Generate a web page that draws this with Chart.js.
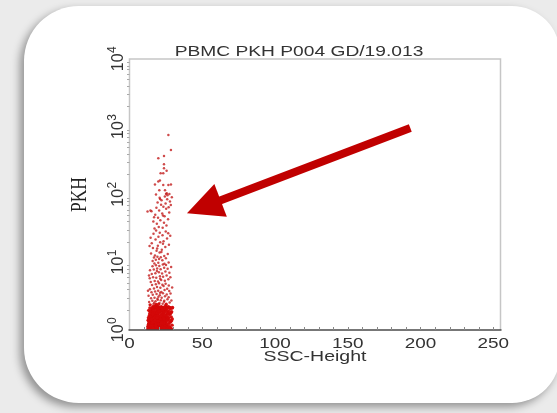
<!DOCTYPE html>
<html>
<head>
<meta charset="utf-8">
<script src="https://cdn.jsdelivr.net/npm/chart.js@4.4.1/dist/chart.umd.min.js"></script>
<style>
  html,body{margin:0;padding:0;background:#ebebeb;width:557px;height:413px;overflow:hidden;}
  #card{position:absolute;left:24px;top:6px;width:536px;height:397px;background:#fff;
        border-radius:55px 48px 48px 55px;box-shadow:-4px 4px 8px rgba(0,0,0,0.38);}
  #c{position:absolute;left:0;top:0;}
</style>
</head>
<body>
<div id="card"></div>
<canvas id="c" width="557" height="413"></canvas>
<script>
const chartTitle = 'PBMC PKH P004 GD/19.013';
const xAxisTitle = 'SSC-Height';
const yAxisTitle = 'PKH';
const xTicks = [0, 50, 100, 150, 200, 250];
const yTicks = [1, 10, 100, 1000, 10000];
const yTickExp = ['0', '1', '2', '3', '4'];
const arrowFrom = [193, 958];
const arrowTo = [39.5, 53];

const ssc = [
 13.1,14.5,15.2,16.8,17.4,18.9,19.6,20.3,21.7,22.4,23.8,24.6,25.9,27.2,28.4,13.8,15.9,17.1,18.3,19.2,20.8,21.3,22.9,24.1,26.3,14.2,16.3,17.9,19.9,21.1,23.2,25.4,12.9,15.6,16.1,18.1,19.4,20.6,22.1,23.5,14.9,16.6,17.7,18.6,20.1,21.9,24.9,26.8,29.1,13.5,15.4,17.0,18.7,19.8,21.5,22.7,24.3,25.6,14.7,16.9,19.0,20.5,22.3,23.9,15.0,17.6,18.4,21.0,14.0,16.4,20.0,13.3,27.8,12.6,23.0,15.8,
 13.4,14.6,15.3,16.7,17.5,18.8,19.5,20.4,21.6,22.5,23.7,24.8,26.1,27.5,28.9,14.1,15.7,16.2,17.8,18.2,19.7,20.9,21.4,22.8,24.4,25.7,13.0,15.1,16.5,18.5,20.2,22.2,23.4,26.6,14.8,17.2,19.1,21.2,23.1,25.1,13.7,16.0,17.3,18.0,19.3,20.7,22.0,24.0,14.4,15.5,21.8,27.0,29.4,12.8,16.8,19.9,23.6,25.3,18.9,15.9,20.6,22.6,
 13.6,14.9,16.1,17.4,18.6,19.8,21.0,22.3,23.5,24.7,26.0,27.4,28.6,14.3,15.6,16.9,18.1,19.4,20.5,21.7,22.9,24.2,25.5,13.2,15.2,17.0,18.8,20.1,21.4,23.3,25.0,27.9,14.0,15.8,17.3,18.4,19.6,20.8,22.0,23.1,24.5,25.8,27.1,28.3,29.6,16.4,19.1,21.9,24.9,26.7,16.6,19.0,21.3,23.8,15.4,17.8,22.6,26.4,28.0,13.9,20.3,18.0,29.0,
 13.7,14.3,15.1,15.7,16.4,16.9,17.3,17.9,18.2,18.7,19.3,19.9,20.2,20.7,21.2,21.6,22.2,22.7,23.3,23.8,24.2,24.7,25.3,25.8,26.4,27.1,27.7,28.2,14.6,15.3,16.0,16.6,17.2,17.8,18.5,19.1,19.6,20.4,21.0,21.7,22.4,23.0,23.6,24.3,25.0,25.7,26.5,27.3,28.7,13.2,13.9,14.4,15.0,15.6,16.3,17.0,17.7,18.1,18.8,19.5,20.0,20.8,21.3,21.8,22.3,22.8,23.4,24.0,24.5,25.2,25.9,26.2,27.0,27.6,28.1,29.3,13.0,12.7,14.2,15.9,17.5,19.3,20.9,22.5,24.1,26.0,27.6,29.2,16.0,18.0,20.1,22.0,24.0,19.0,21.5,23.7,
 14.2,16.5,18.3,20.6,22.8,25.2,27.6,13.5,15.7,17.9,19.4,21.5,23.7,26.1,28.8,14.8,17.2,19.9,22.1,24.4,26.9,13.1,16.0,18.6,20.8,23.0,25.6,28.2,15.1,17.6,19.7,21.9,24.1,27.3,14.0,16.8,18.9,21.2,23.4,25.9,29.3,15.5,18.1,20.3,22.6,24.8,12.7,27.0,17.0,19.2,21.0,23.9,20.0,
 14.6,17.3,19.6,21.8,24.3,26.7,13.9,16.2,18.4,20.9,23.1,25.5,28.1,15.3,17.8,20.2,22.4,24.7,27.4,14.1,16.7,19.0,21.4,23.8,26.2,15.8,18.2,20.5,22.9,25.1,17.1,19.8,24.0,28.6,13.4,21.1,26.9,18.8,
 15.9,18.1,20.3,22.6,25.0,16.8,19.2,21.5,17.5,23.9,14.8,20.7,26.3,18.6,22.2,16.1,24.6,19.5,27.1,15.3,21.1,23.4,17.9,25.8,19.9,22.7,16.5,20.8,24.9,18.3,28.0,14.5,21.9,26.6,13.8,23.0,19.0,
 17.2,20.1,22.8,25.4,18.8,23.7,16.4,21.2,26.5,19.6,24.1,17.7,22.5,27.3,15.1,20.4,25.2,18.5,23.3,26.9,21.7,24.8,19.3,27.8,22.0,25.9,20.7,24.3,26.1,14.4,16.9,28.4,29.1,23.0,12.4,
 19.8,23.2,26.7,25.6,18.2,26.7,28.5,23.7,19.8,23.7,23.7,25.5,21.4,23.2,17.5,28.5,20.9,20.5,24.4,25.1,27.4,21.0
];
const pkh = [
 1.02,1.05,1.01,1.08,1.03,1.06,1.02,1.11,1.04,1.09,1.01,1.07,1.03,1.05,1.02,1.13,1.15,1.12,1.18,1.14,1.16,1.2,1.13,1.17,1.12,1.22,1.19,1.24,1.21,1.25,1.23,1.2,1.1,1.06,1.03,1.1,1.08,1.02,1.05,1.12,1.09,1.23,1.16,1.02,1.19,1.14,1.1,1.08,1.04,1.18,1.24,1.07,1.13,1.05,1.09,1.18,1.04,1.15,1.01,1.14,1.23,1.07,1.22,1.15,1.12,1.01,1.2,1.11,1.07,1.1,1.13,1.24,1.11,1.04,1.03,1.2,
 1.27,1.31,1.28,1.35,1.3,1.38,1.29,1.33,1.4,1.27,1.36,1.31,1.42,1.3,1.37,1.45,1.5,1.43,1.48,1.55,1.46,1.52,1.58,1.44,1.5,1.47,1.52,1.57,1.6,1.41,1.59,1.54,1.6,1.55,1.38,1.42,1.32,1.28,1.49,1.39,1.34,1.36,1.56,1.29,1.5,1.43,1.35,1.57,1.53,1.41,1.47,1.5,1.45,1.39,1.52,1.37,1.3,1.56,1.59,1.32,1.26,1.58,
 1.62,1.68,1.65,1.72,1.66,1.75,1.63,1.7,1.78,1.64,1.73,1.69,1.8,1.85,1.82,1.9,1.86,1.93,1.84,1.97,1.88,1.95,1.83,1.95,2.0,2.05,1.99,2.08,2.02,2.06,2.01,2.04,2.12,2.15,2.1,2.16,2.12,2.17,2.13,2.15,2.11,2.16,2.14,2.12,2.15,2.22,2.25,2.21,2.27,2.2,1.76,1.7,1.88,1.92,1.91,1.79,1.66,1.9,1.72,1.74,1.96,2.29,1.86,
 1.04,1.16,1.09,1.27,1.02,1.33,1.19,1.06,1.42,1.25,1.11,1.48,1.03,1.36,1.17,1.29,1.07,1.44,1.21,1.34,1.02,1.26,1.09,1.38,1.05,1.22,1.03,1.31,1.55,1.63,1.71,1.49,1.84,1.58,1.66,1.77,1.61,1.89,1.53,1.74,1.95,1.57,1.81,1.68,1.99,1.62,1.78,1.87,1.56,1.37,1.58,1.01,1.44,1.14,1.31,1.04,1.39,1.21,1.08,1.35,1.24,1.05,1.46,1.02,1.32,1.1,1.05,1.28,1.14,1.02,1.24,1.45,1.12,1.4,1.07,1.18,1.21,1.14,1.88,2.05,2.18,2.03,2.14,2.09,2.19,2.08,2.16,2.1,1.06,1.15,1.01,1.26,1.08,1.51,1.62,1.47,
 2.35,2.42,2.38,2.5,2.45,2.4,2.55,2.6,2.7,2.65,2.8,2.75,2.62,2.85,2.72,2.95,3.0,3.1,2.98,3.15,3.05,3.2,3.3,3.4,3.25,3.5,3.35,3.45,3.6,3.7,3.8,3.65,3.9,3.75,4.0,4.1,4.3,4.2,4.45,4.05,4.25,4.6,4.75,4.9,4.65,4.8,3.8,4.55,2.52,2.9,3.55,2.7,2.4,
 5.1,5.3,5.2,5.45,5.35,5.6,5.8,6.0,5.9,6.2,6.1,6.4,6.0,6.7,6.9,7.1,6.8,7.3,7.0,7.6,7.8,8.1,7.9,8.3,8.0,8.7,9.0,8.8,9.3,9.1,9.6,9.8,9.5,8.5,6.4,5.7,9.9,7.4,
 10.4,10.9,11.2,10.7,11.5,11.8,12.1,11.9,12.6,12.4,13.5,13.9,13.2,14.8,15.3,16.2,16.8,17.5,18.2,19.1,19.8,20.5,21.6,22.4,23.8,25.1,26.3,27.2,28.4,29.5,24.6,22.9,14.2,26.9,17.4,18.7,15.9,
 31.5,33.2,32.4,34.8,36.9,38.3,40.1,41.7,43.2,45.5,47.8,50.2,52.6,54.1,56.8,58.3,61.5,63.7,66.2,64.8,70.3,73.6,76.4,78.9,82.5,85.1,89.6,93.2,97.5,58.0,46.1,70.2,91.0,48.9,56.0,
 155,138,138,104,100,755,454,370,342,279,244,225,206,206,141,141,161,116,116,102,102,86
];

const points = ssc.map((v, i) => ({ x: v, y: pkh[i] }));

function stretchedText(ctx, txt, x, y, sx, align) {
  ctx.save();
  ctx.translate(x, y);
  ctx.scale(sx, 1);
  ctx.textAlign = align || 'center';
  ctx.fillText(txt, 0, 0);
  ctx.restore();
}

const deco = {
  id: 'deco',
  afterDatasetsDraw(chart) {
    const { ctx, chartArea: a, scales: { x, y } } = chart;
    ctx.save();
    // frame
    ctx.lineWidth = 1.5;
    ctx.strokeStyle = '#c6c6c6';
    ctx.beginPath();
    ctx.moveTo(a.left, a.bottom); ctx.lineTo(a.left, a.top);
    ctx.lineTo(a.right, a.top); ctx.lineTo(a.right, a.bottom);
    ctx.stroke();
    ctx.strokeStyle = '#4a4a4a';
    ctx.beginPath();
    ctx.moveTo(a.left - 1, a.bottom); ctx.lineTo(a.right + 1, a.bottom);
    ctx.stroke();
    // x minor ticks
    ctx.lineWidth = 1;
    ctx.strokeStyle = '#888';
    for (let v = 10; v <= 250; v += 10) {
      const px = Math.round(x.getPixelForValue(v)) + 0.5;
      ctx.beginPath(); ctx.moveTo(px, a.bottom); ctx.lineTo(px, a.bottom - 3); ctx.stroke();
    }
    // y minor ticks
    ctx.strokeStyle = '#aaa';
    for (let d = 0; d < 4; d++) {
      for (let m = 2; m <= 9; m++) {
        const py = Math.round(y.getPixelForValue(m * Math.pow(10, d))) + 0.5;
        ctx.beginPath(); ctx.moveTo(a.left - 2.5, py); ctx.lineTo(a.left, py); ctx.stroke();
      }
    }
    // x tick labels
    ctx.fillStyle = '#333';
    ctx.textBaseline = 'alphabetic';
    ctx.font = '14px "Liberation Sans", Arial, sans-serif';
    xTicks.forEach(v => stretchedText(ctx, String(v), x.getPixelForValue(v), a.bottom + 18, 1.35));
    // x title
    ctx.font = '15px "Liberation Sans", Arial, sans-serif';
    stretchedText(ctx, xAxisTitle, (a.left + a.right) / 2, a.bottom + 31, 1.3);
    // chart title
    stretchedText(ctx, chartTitle, (a.left + a.right) / 2 - 16, a.top - 3, 1.28);
    // y tick labels (rotated, with superscript)
    yTicks.forEach((v, i) => {
      const py = y.getPixelForValue(v);
      ctx.save();
      ctx.translate(a.left - 7, py);
      ctx.rotate(-Math.PI / 2);
      ctx.font = '16px "Liberation Sans", Arial, sans-serif';
      const w1 = ctx.measureText('10').width;
      ctx.font = '12px "Liberation Sans", Arial, sans-serif';
      const w2 = ctx.measureText(yTickExp[i]).width;
      const start = -(w1 + w2) / 2;
      ctx.textAlign = 'left';
      ctx.font = '16px "Liberation Sans", Arial, sans-serif';
      ctx.fillText('10', start, 0);
      ctx.font = '12px "Liberation Sans", Arial, sans-serif';
      ctx.fillText(yTickExp[i], start + w1 + 0.5, -6.5);
      ctx.restore();
    });
    // y title
    ctx.save();
    ctx.fillStyle = '#222';
    ctx.translate(a.left - 44, (a.top + a.bottom) / 2);
    ctx.scale(1.35, 1);
    ctx.rotate(-Math.PI / 2);
    ctx.font = '17.5px "Liberation Serif", "Times New Roman", serif';
    ctx.textAlign = 'center';
    ctx.fillText(yAxisTitle, 0, 0);
    ctx.restore();
    // arrow
    const tx = x.getPixelForValue(arrowFrom[0]), ty = y.getPixelForValue(arrowFrom[1]);
    const hx = x.getPixelForValue(arrowTo[0]), hy = y.getPixelForValue(arrowTo[1]);
    const L = Math.hypot(tx - hx, ty - hy);
    const ux = (tx - hx) / L, uy = (ty - hy) / L;
    const nx = -uy, ny = ux;
    const headLen = 36, headHalf = 17.5;
    ctx.fillStyle = '#c00000';
    ctx.strokeStyle = '#c00000';
    ctx.lineWidth = 8;
    ctx.lineCap = 'butt';
    ctx.beginPath();
    ctx.moveTo(tx, ty);
    ctx.lineTo(hx + ux * (headLen - 4), hy + uy * (headLen - 4));
    ctx.stroke();
    ctx.beginPath();
    ctx.moveTo(hx, hy);
    ctx.lineTo(hx + ux * headLen + nx * headHalf, hy + uy * headLen + ny * headHalf);
    ctx.lineTo(hx + ux * headLen - nx * headHalf, hy + uy * headLen - ny * headHalf);
    ctx.closePath();
    ctx.fill();
    ctx.restore();
  }
};

new Chart(document.getElementById('c'), {
  type: 'scatter',
  data: {
    datasets: [{
      data: points,
      pointRadius: c => (c.raw && c.raw.y > 2.4 ? 1.25 : 1.7),
      pointBorderWidth: 0,
      pointBackgroundColor: c => (c.raw && c.raw.y > 2.4 ? 'rgba(195,30,30,0.8)' : 'rgba(212,8,8,0.95)'),
      pointHoverRadius: 1.5
    }]
  },
  options: {
    responsive: false,
    animation: false,
    devicePixelRatio: 1,
    layout: { padding: { left: 129.5, right: 56.5, top: 59, bottom: 83 } },
    plugins: { legend: { display: false }, tooltip: { enabled: false } },
    events: [],
    scales: {
      x: { type: 'linear', min: 0, max: 255, display: false },
      y: { type: 'logarithmic', min: 1, max: 10000, display: false }
    }
  },
  plugins: [deco]
});
</script>
</body>
</html>
